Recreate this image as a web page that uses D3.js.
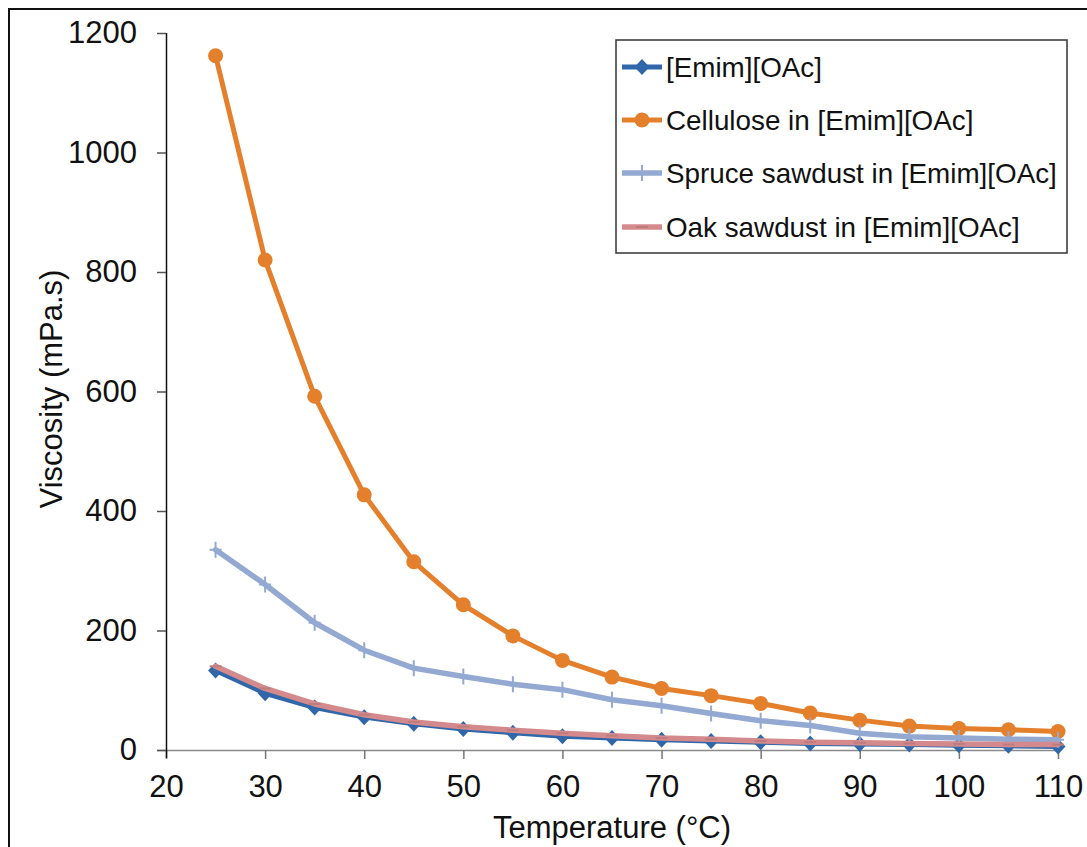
<!DOCTYPE html>
<html>
<head>
<meta charset="utf-8">
<script src="https://cdn.jsdelivr.net/npm/d3@7"></script>
<style>
  html, body { margin: 0; padding: 0; background: #fff; }
  svg { display: block; font-family: "Liberation Sans", Arial, sans-serif; }
</style>
</head>
<body>
<svg id="chart" width="1087" height="847"></svg>
<script>
const temperatures = [25, 30, 35, 40, 45, 50, 55, 60, 65, 70, 75, 80, 85, 90, 95, 100, 105, 110];
const emim      = [133, 95, 71, 55, 44, 35, 29, 23, 20, 17, 15, 13, 11, 10, 9, 8, 7, 6];
const cellulose = [1162, 820, 592, 427, 315, 243, 191, 150, 122, 103, 91, 78, 62, 50, 40, 36, 34, 31];
const spruce    = [335, 277, 213, 167, 137, 123, 110, 101, 84, 74, 61, 49, 41, 28, 22, 20, 18, 17];
const oak       = [140, 103, 77, 59, 47, 39, 33, 28, 24, 20, 18, 15, 13, 12, 11, 10, 9, 9];
const seriesNames = ["[Emim][OAc]", "Cellulose in [Emim][OAc]", "Spruce sawdust in [Emim][OAc]", "Oak sawdust in [Emim][OAc]"];
const xTicks = [20, 30, 40, 50, 60, 70, 80, 90, 100, 110];
const yTicks = [0, 200, 400, 600, 800, 1000, 1200];
const xTitle = "Temperature (°C)";
const yTitle = "Viscosity (mPa.s)";

(function () {
const series = [
  { name: seriesNames[0], values: emim,      color: "#3067AA", marker: "diamond", width: 5 },
  { name: seriesNames[1], values: cellulose, color: "#E47F2C", marker: "circle",  width: 5 },
  { name: seriesNames[2], values: spruce,    color: "#93A9D2", marker: "plus",    width: 5.5 },
  { name: seriesNames[3], values: oak,       color: "#D48A8C", marker: "dash",    width: 5.5 }
];

const svg = d3.select("#chart");
const pL = 166, pR = 1058, pT = 33, pB = 750;
const x = d3.scaleLinear().domain([20, 110]).range([pL, pR]);
const y = d3.scaleLinear().domain([0, 1200]).range([pB, pT]);

// outer frame
svg.append("rect").attr("x", 9).attr("y", 9).attr("width", 1200).attr("height", 1000)
  .attr("fill", "none").attr("stroke", "#111").attr("stroke-width", 2);

// x axis
const xAxis = svg.append("g").attr("transform", `translate(0,${pB})`)
  .call(d3.axisBottom(x).tickValues(xTicks).tickFormat(d3.format("d")).tickSize(9).tickSizeOuter(0).tickPadding(16));
xAxis.select(".domain").attr("stroke", "#8a8a8a").attr("stroke-width", 1.5)
  .attr("d", `M${pL - 9},0.5H${pR + 2}`);
xAxis.selectAll(".tick line").attr("stroke", "#777").attr("stroke-width", 1.5);
xAxis.selectAll(".tick text").attr("font-size", 31).attr("fill", "#111")
  .attr("font-family", "Liberation Sans, Arial, sans-serif");

// y axis
const yAxis = svg.append("g").attr("transform", `translate(${pL},0)`)
  .call(d3.axisLeft(y).tickValues(yTicks).tickFormat(d3.format("d")).tickSize(9).tickSizeOuter(0).tickPadding(20));
yAxis.select(".domain").attr("stroke", "#111").attr("stroke-width", 1.5)
  .attr("d", `M0.5,${pT}V${pB + 8}`);
yAxis.selectAll(".tick line").attr("stroke", "#555").attr("stroke-width", 1.5);
yAxis.selectAll(".tick text").attr("font-size", 31).attr("fill", "#111")
  .attr("font-family", "Liberation Sans, Arial, sans-serif");

// axis titles
svg.append("text").attr("x", (pL + pR) / 2).attr("y", 838)
  .attr("text-anchor", "middle").attr("font-size", 31).attr("fill", "#111").text(xTitle);
svg.append("text").attr("transform", `translate(62,389) rotate(-90)`)
  .attr("text-anchor", "middle").attr("font-size", 31).attr("fill", "#111").text(yTitle);

function drawMarker(g, type, color, cx, cy) {
  if (type === "diamond") {
    g.append("path").attr("d", `M${cx},${cy - 8}L${cx + 7.5},${cy}L${cx},${cy + 8}L${cx - 7.5},${cy}Z`)
      .attr("fill", color);
  } else if (type === "circle") {
    g.append("circle").attr("cx", cx).attr("cy", cy).attr("r", 7.5).attr("fill", color);
  } else if (type === "plus") {
    g.append("path").attr("d", `M${cx - 6},${cy}H${cx + 6}M${cx},${cy - 8}V${cy + 8}`)
      .attr("stroke", color).attr("stroke-width", 2);
  } else if (type === "dash") {
    g.append("path").attr("d", `M${cx - 6},${cy}H${cx + 6}`)
      .attr("stroke", d3.color(color).darker(0.3)).attr("stroke-width", 2);
  }
}

const line = d3.line().x((d, i) => x(temperatures[i])).y(d => y(d));
const plot = svg.append("g");
series.forEach(s => {
  const g = plot.append("g");
  g.append("path").datum(s.values).attr("d", line)
    .attr("fill", "none").attr("stroke", s.color).attr("stroke-width", s.width)
    .attr("stroke-linejoin", "round").attr("stroke-linecap", "round");
  s.values.forEach((v, i) => drawMarker(g, s.marker, s.color, x(temperatures[i]), y(v)));
});

// legend
const lg = svg.append("g");
lg.append("rect").attr("x", 616).attr("y", 40).attr("width", 451).attr("height", 213)
  .attr("fill", "#fff").attr("stroke", "#333").attr("stroke-width", 1.5);
const legendY = [67, 120, 173, 227];
series.forEach((s, i) => {
  const cy = legendY[i];
  lg.append("line").attr("x1", 622).attr("x2", 662).attr("y1", cy).attr("y2", cy)
    .attr("stroke", s.color).attr("stroke-width", s.width);
  drawMarker(lg, s.marker, s.color, 642, cy);
  lg.append("text").attr("x", 666).attr("y", cy).attr("dy", "0.36em")
    .attr("font-size", 27.8).attr("fill", "#111").text(s.name);
});
})();
</script>
</body>
</html>
